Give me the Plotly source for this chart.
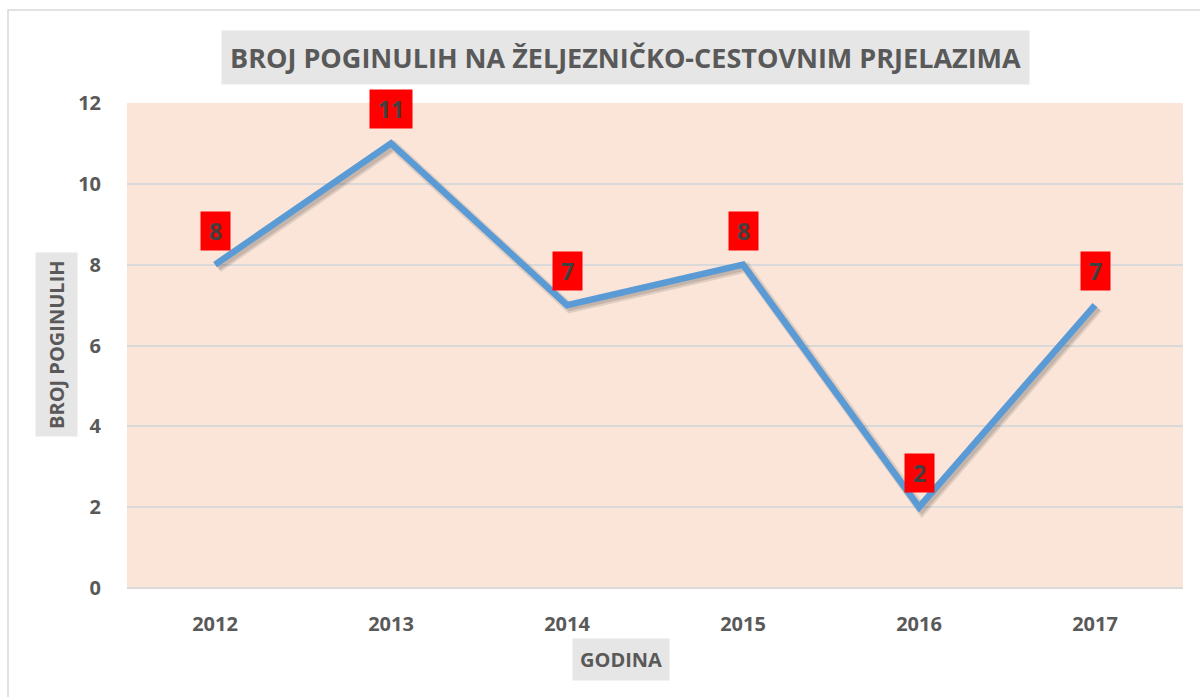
import plotly.graph_objects as go

years = ["2012", "2013", "2014", "2015", "2016", "2017"]
deaths = [8, 11, 7, 8, 2, 7]
y_ticks = [0, 2, 4, 6, 8, 10, 12]

title_text = "BROJ POGINULIH NA ŽELJEZNIČKO-CESTOVNIM PRJELAZIMA"
x_title = "GODINA"
y_title = "BROJ POGINULIH"

FONT = "Open Sans"
TXT = "#595959"
W, H = 1200, 697
L, R, T, B = 127, 17, 103, 109
pw, ph = W - L - R, H - T - B

fig = go.Figure()

# soft shadow of the line (drawn on slightly offset overlay axes)
dx = 3 / (pw / 6)
dy = 3 / (ph / 12)
fig.add_trace(go.Scatter(x=years, y=deaths, mode="lines", xaxis="x2", yaxis="y2",
                         line=dict(color="rgba(0,0,0,0.10)", width=10),
                         hoverinfo="skip", showlegend=False))
fig.add_trace(go.Scatter(x=years, y=deaths, mode="lines", xaxis="x2", yaxis="y2",
                         line=dict(color="rgba(0,0,0,0.12)", width=6),
                         hoverinfo="skip", showlegend=False))
# main line on identical overlay axes (drawn above the shadow)
fig.add_trace(go.Scatter(x=years, y=deaths, mode="lines", xaxis="x3", yaxis="y3",
                         line=dict(color="#5B9BD5", width=6.5),
                         showlegend=False))

for i, v in enumerate(deaths):
    s = str(v)
    fig.add_annotation(xref="x", yref="y", x=i, y=v, text=f"<b>{s}</b>", showarrow=False,
                       yshift=34, bgcolor="#FF0000", borderpad=4,
                       width=8 + 13 * len(s), height=30,
                       font=dict(family=FONT, size=23, color="#404040"))

# title
fig.add_annotation(xref="paper", yref="paper", x=(625 - L) / pw, y=1 + (103 - 58) / ph,
                   text=f"<b>{title_text}</b>", showarrow=False, bgcolor="#E6E6E6",
                   borderpad=8, xanchor="center", yanchor="middle",
                   font=dict(family=FONT, size=27, color=TXT))
# x axis title
fig.add_annotation(xref="paper", yref="paper", x=(621 - L) / pw, y=-(659 - 588) / ph,
                   text=f"<b>{x_title}</b>", showarrow=False, bgcolor="#E6E6E6",
                   borderpad=7, xanchor="center", yanchor="middle",
                   font=dict(family=FONT, size=20, color=TXT))
# y axis title
fig.add_annotation(xref="paper", yref="paper", x=-(127 - 56) / pw, y=(588 - 345) / ph,
                   text=f"<b>{y_title}</b>", showarrow=False, bgcolor="#E6E6E6",
                   borderpad=7, textangle=-90, xanchor="center", yanchor="middle",
                   font=dict(family=FONT, size=20, color=TXT))

# outer chart border
fig.add_shape(type="rect", xref="paper", yref="paper",
              x0=(8 - L) / pw, x1=(1205 - L) / pw,
              y0=-(702 - 588) / ph, y1=1 + (103 - 10) / ph,
              line=dict(color="#D9D9D9", width=1.5), fillcolor="rgba(0,0,0,0)", layer="below")

fig.update_layout(
    width=W, height=H,
    margin=dict(l=L, r=R, t=T, b=B, pad=0),
    paper_bgcolor="white",
    plot_bgcolor="#FAE5D8",
    showlegend=False,
    xaxis=dict(type="category", categoryarray=years, range=[-0.5, 5.5], showgrid=False,
               zeroline=False, showline=False, ticks="", ticklabelstandoff=22,
               tickvals=years, ticktext=years,
               tickfont=dict(family=FONT, size=20, color=TXT, weight="bold")),
    yaxis=dict(range=[0, 12], tickvals=y_ticks, showgrid=True, gridcolor="#D9D9D9",
               gridwidth=1.5, zeroline=True, zerolinecolor="#D9D9D9", zerolinewidth=1.5,
               showline=False, ticks="", ticklabelstandoff=25,
               tickfont=dict(family=FONT, size=20, color=TXT, weight="bold")),
    xaxis2=dict(type="category", range=[-0.5 - dx, 5.5 - dx], overlaying="x",
                visible=False),
    yaxis2=dict(range=[0 + dy, 12 + dy], overlaying="y", visible=False),
    xaxis3=dict(type="category", range=[-0.5, 5.5], overlaying="x", visible=False),
    yaxis3=dict(range=[0, 12], overlaying="y", visible=False),
)

fig.write_html("out.html")
